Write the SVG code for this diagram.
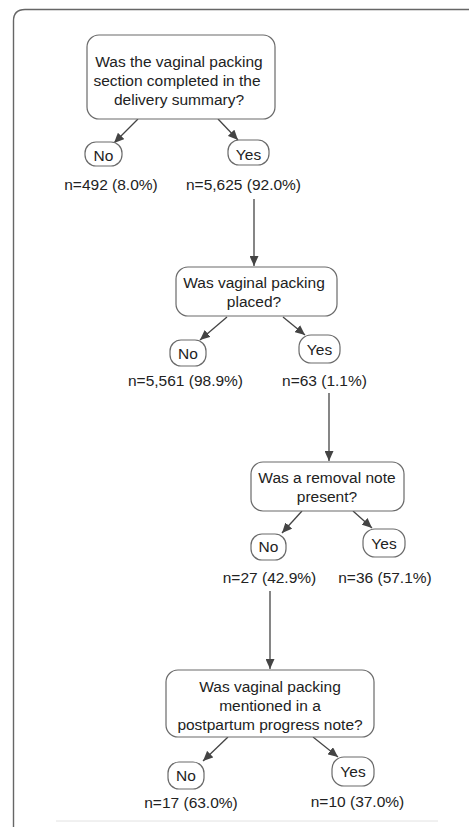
<svg xmlns="http://www.w3.org/2000/svg" width="469" height="827" viewBox="0 0 469 827">
<defs>
<style>
text{font-family:"Liberation Sans",Arial,sans-serif;font-size:15.5px;fill:#222;text-anchor:middle}
.box{fill:#fff;stroke:#6a6a6a;stroke-width:1.2}
.conn{stroke:#444;stroke-width:1.3;fill:none;marker-end:url(#ah)}
</style>
<marker id="ah" markerUnits="userSpaceOnUse" markerWidth="11" markerHeight="9" refX="10" refY="4.5" orient="auto">
<path d="M0,0 L10,4.5 L0,9 z" fill="#444"/>
</marker>
</defs>
<rect width="469" height="827" fill="#fff"/>
<path d="M13.5,827 V21 Q13.5,9.5 25,9.5 H469" fill="none" stroke="#666" stroke-width="1.4"/>
<line x1="56" y1="821" x2="438" y2="821" stroke="#e2e2e2" stroke-width="1"/>

<g id="connectors">
<line class="conn" x1="138" y1="119" x2="114" y2="143"/>
<line class="conn" x1="218" y1="119" x2="238" y2="140"/>
<line class="conn" x1="254" y1="199" x2="254" y2="266"/>
<line class="conn" x1="227" y1="317" x2="200" y2="340"/>
<line class="conn" x1="283" y1="317" x2="305" y2="335"/>
<line class="conn" x1="329" y1="393" x2="329" y2="461"/>
<line class="conn" x1="302" y1="511" x2="282" y2="533"/>
<line class="conn" x1="353" y1="511" x2="372" y2="528"/>
<line class="conn" x1="270" y1="591" x2="270" y2="669"/>
<line class="conn" x1="228" y1="737" x2="203" y2="761"/>
<line class="conn" x1="313" y1="737" x2="338" y2="757"/>
</g>

<g id="q1">
<rect class="box" x="87" y="35" width="188" height="84" rx="12"/>
<text x="179" y="67">Was the vaginal packing</text>
<text x="177" y="86">section completed in the</text>
<text x="179" y="105">delivery summary?</text>
</g>
<g id="q1-no">
<rect class="box" x="85" y="142" width="37" height="24" rx="11"/>
<text x="103.5" y="161">No</text>
<text x="111" y="190">n=492 (8.0%)</text>
</g>
<g id="q1-yes">
<rect class="box" x="228" y="140" width="41" height="25" rx="11"/>
<text x="248.5" y="160">Yes</text>
<text x="243.5" y="190">n=5,625 (92.0%)</text>
</g>

<g id="q2">
<rect class="box" x="176" y="267" width="161" height="49" rx="12"/>
<text x="254" y="288">Was vaginal packing</text>
<text x="254" y="307">placed?</text>
</g>
<g id="q2-no">
<rect class="box" x="170" y="340" width="36" height="26" rx="11"/>
<text x="188" y="359">No</text>
<text x="185.5" y="386">n=5,561 (98.9%)</text>
</g>
<g id="q2-yes">
<rect class="box" x="299" y="335" width="41" height="28" rx="12"/>
<text x="319.5" y="355">Yes</text>
<text x="324.5" y="386">n=63 (1.1%)</text>
</g>

<g id="q3">
<rect class="box" x="251" y="462" width="153" height="49" rx="12"/>
<text x="327" y="483">Was a removal note</text>
<text x="327" y="502">present?</text>
</g>
<g id="q3-no">
<rect class="box" x="251" y="534" width="35" height="26" rx="11"/>
<text x="268.5" y="552">No</text>
<text x="269.5" y="583">n=27 (42.9%)</text>
</g>
<g id="q3-yes">
<rect class="box" x="363" y="529" width="42" height="28" rx="12"/>
<text x="384" y="549">Yes</text>
<text x="385" y="583">n=36 (57.1%)</text>
</g>

<g id="q4">
<rect class="box" x="166" y="670" width="208" height="67" rx="12"/>
<text x="270" y="692">Was vaginal packing</text>
<text x="270" y="711">mentioned in a</text>
<text x="270" y="730">postpartum progress note?</text>
</g>
<g id="q4-no">
<rect class="box" x="168" y="762" width="36" height="27" rx="11"/>
<text x="186" y="781">No</text>
<text x="191" y="808">n=17 (63.0%)</text>
</g>
<g id="q4-yes">
<rect class="box" x="332" y="757" width="42" height="29" rx="12"/>
<text x="353" y="777">Yes</text>
<text x="357.5" y="807">n=10 (37.0%)</text>
</g>
</svg>
